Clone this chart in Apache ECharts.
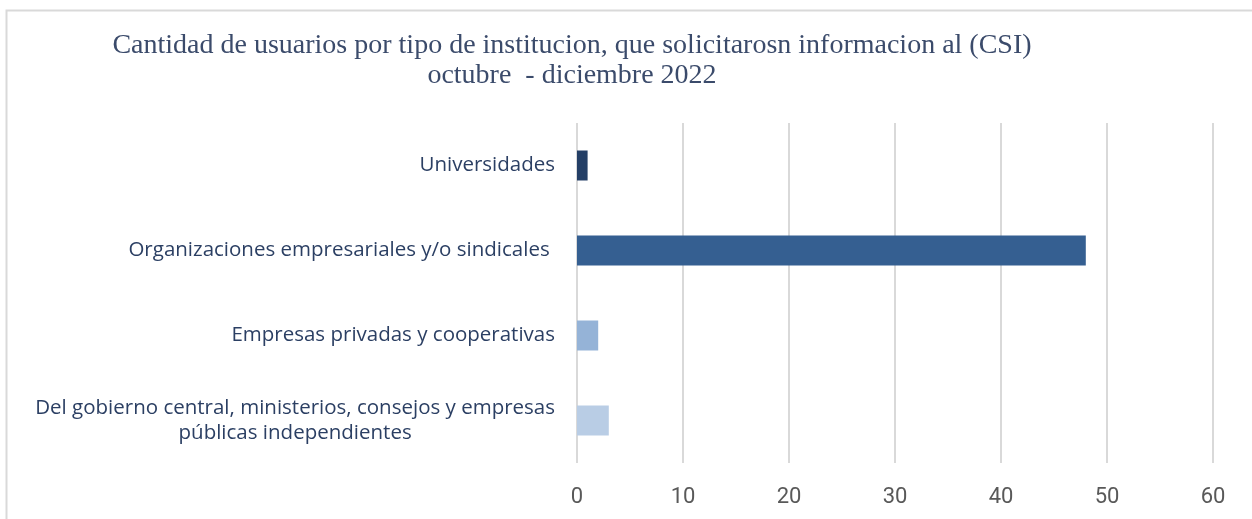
<!DOCTYPE html>
<html><head><meta charset="utf-8">
<script src="https://cdn.jsdelivr.net/npm/echarts@6/dist/echarts.min.js"></script>
<style>html,body{margin:0;padding:0;background:#fff}#c{width:1252px;height:519px}</style>
</head><body><div id="c"></div>
<script>
const titleLines = ['Cantidad de usuarios por tipo de institucion, que solicitarosn informacion al (CSI)', 'octubre  - diciembre 2022'];
const categories = ['Universidades', 'Organizaciones empresariales y/o sindicales ', 'Empresas privadas y cooperativas', 'Del gobierno central, ministerios, consejos y empresas\npúblicas independientes'];
const values = [1, 48, 2, 3];
const barColors = ['#243F66', '#355F91', '#95B3D7', '#B9CDE5'];
const xTicks = [0, 10, 20, 30, 40, 50, 60];

const chart = echarts.init(document.getElementById('c'), null, {renderer: 'canvas'});
chart.setOption({
  animation: false,
  backgroundColor: '#fff',
  graphic: [{type: 'rect', left: 4, top: 8, shape: {width: 1260, height: 520}, style: {fill: 'none', stroke: '#D9D9D9', lineWidth: 2}, z: -1}],
  title: {
    text: titleLines.join('\n'),
    left: 567, top: 26, textAlign: 'center',
    textStyle: {fontFamily: 'Liberation Serif', fontWeight: 'normal', fontSize: 28, lineHeight: 30, color: '#3B4B6B'}
  },
  grid: {left: 577, right: 39, top: 123, bottom: 56, containLabel: false},
  xAxis: {
    type: 'value', min: xTicks[0], max: xTicks[xTicks.length - 1], interval: 10,
    axisLine: {show: false}, axisTick: {show: false},
    splitLine: {show: true, lineStyle: {color: '#D9D9D9', width: 2}},
    axisLabel: {margin: 23, fontFamily: 'Roboto', fontSize: 22, color: '#595959'}
  },
  yAxis: {
    type: 'category', data: categories, inverse: true,
    axisLine: {show: false}, axisTick: {show: false},
    axisLabel: {
      margin: 22, fontFamily: 'Open Sans', fontSize: 20.5, color: '#2B3F63', lineHeight: 25,
      formatter: function (v) {
        if (v.indexOf('\n') < 0) return v;
        return v.split('\n').map(function (l) { return '{c|' + l + '}'; }).join('\n');
      },
      rich: {c: {align: 'center', fontFamily: 'Open Sans', fontSize: 20.5, color: '#2B3F63', lineHeight: 25}}
    }
  },
  series: [{
    type: 'bar', barWidth: 30,
    data: values.map(function (v, i) { return {value: v, itemStyle: {color: barColors[i]}}; })
  }]
});
</script></body></html>
